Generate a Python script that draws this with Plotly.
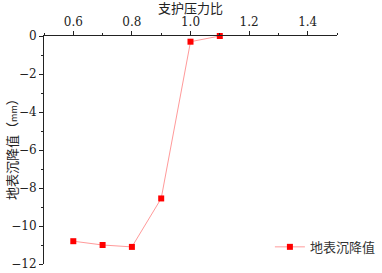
import plotly.graph_objects as go

x_ratio = [0.6, 0.7, 0.8, 0.9, 1.0, 1.1]
settlement = [-10.8, -11.0, -11.1, -8.55, -0.3, 0.0]
series_name = "地表沉降值"
x_title = "支护压力比"
y_title = "地表沉降值（<span style='font-size:9px'>mm</span>）"

fig = go.Figure()
fig.add_trace(go.Scatter(
    x=x_ratio, y=settlement, name=series_name,
    mode="lines+markers",
    line=dict(color="#ff9a9a", width=1),
    marker=dict(symbol="square", size=6, color="#ff0000"),
    cliponaxis=False,
))

tick_font = dict(family="DejaVu Serif", size=12, color="#222")
cjk = "Noto Sans CJK SC"
fig.update_layout(
    width=382, height=273,
    margin=dict(l=44, r=45, t=36, b=9, autoexpand=False),
    paper_bgcolor="white", plot_bgcolor="white",
    showlegend=True,
    legend=dict(x=0.771, y=0.075, xanchor="left", yanchor="middle",
                bgcolor="rgba(0,0,0,0)",
                font=dict(family=cjk, size=13, color="#333"),
                itemwidth=30),
    xaxis=dict(
        side="top", range=[0.5, 1.5], tick0=0.6, dtick=0.2,
        showgrid=False, zeroline=False, automargin=False,
        showline=True, linecolor="#222", linewidth=1,
        ticks="outside", ticklen=4, tickcolor="#222",
        minor=dict(dtick=0.1, tick0=0.5, ticks="outside", ticklen=2, tickcolor="#222"),
        tickfont=tick_font, tickformat=".1f",
    ),
    yaxis=dict(
        range=[-12, 0], dtick=2,
        showgrid=False, zeroline=False, automargin=False,
        showline=True, linecolor="#222", linewidth=1,
        ticks="outside", ticklen=4, tickcolor="#222",
        minor=dict(dtick=1, ticks="outside", ticklen=2, tickcolor="#222"),
        tickfont=tick_font,
    ),
    annotations=[
        dict(text=x_title, xref="paper", yref="paper", x=0.5, y=1.125,
             xanchor="center", yanchor="middle", showarrow=False,
             font=dict(family=cjk, size=13, color="#222")),
        dict(text=y_title, xref="paper", yref="paper", x=-0.109, y=0.518,
             xanchor="center", yanchor="middle", showarrow=False, textangle=-90,
             font=dict(family=cjk, size=13, color="#222")),
    ],
)

fig.write_html("out.html", config={"displayModeBar": False},
               post_script="document.body.style.margin='0';")
